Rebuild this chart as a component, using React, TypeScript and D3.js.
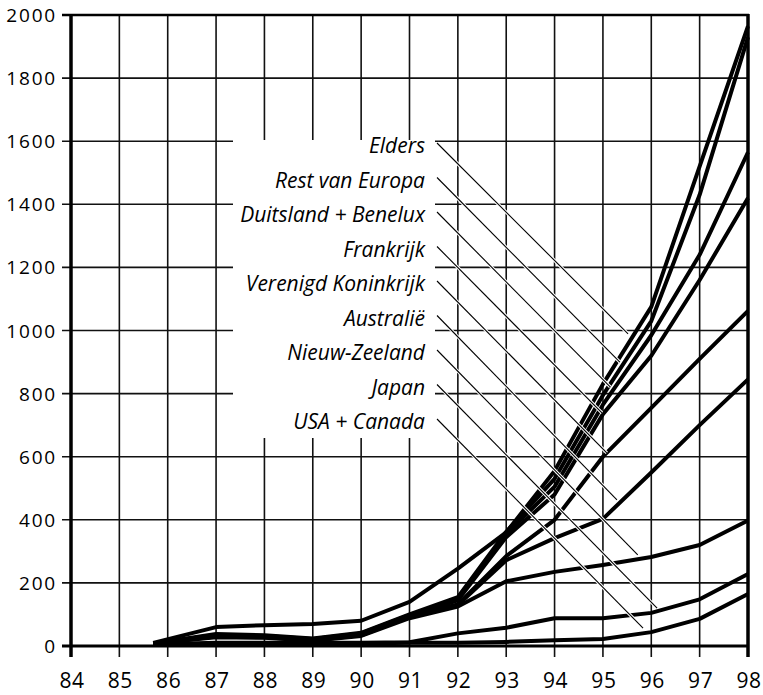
import React from "react";
import * as d3 from "d3";

const years = [85.7, 87, 88, 89, 90, 91, 92, 93, 94, 95, 96, 97, 98];

const elders = [10, 60, 66, 70, 80, 140, 245, 360, 555, 830, 1075, 1520, 1965];
const restVanEuropa = [8, 38, 34, 24, 42, 100, 155, 362, 530, 795, 1030, 1430, 1930];
const duitslandBenelux = [8, 35, 32, 22, 40, 98, 150, 355, 505, 765, 985, 1240, 1565];
const frankrijk = [8, 33, 30, 20, 38, 95, 145, 345, 480, 735, 920, 1160, 1420];
const verenigdKoninkrijk = [8, 32, 30, 20, 36, 94, 132, 285, 400, 600, 755, 910, 1062];
const australie = [8, 30, 28, 18, 34, 92, 130, 272, 342, 403, 550, 700, 845];
const nieuwZeeland = [8, 28, 26, 17, 32, 88, 125, 205, 235, 257, 282, 320, 398];
const japan = [5, 10, 10, 10, 10, 12, 40, 58, 88, 88, 105, 148, 228];
const usaCanada = [5, 8, 8, 8, 8, 10, 10, 13, 18, 22, 44, 86, 165];

const seriesNames = [
  "Elders",
  "Rest van Europa",
  "Duitsland + Benelux",
  "Frankrijk",
  "Verenigd Koninkrijk",
  "Australië",
  "Nieuw-Zeeland",
  "Japan",
  "USA + Canada",
];
const seriesValues = [
  elders,
  restVanEuropa,
  duitslandBenelux,
  frankrijk,
  verenigdKoninkrijk,
  australie,
  nieuwZeeland,
  japan,
  usaCanada,
];

// where each label's leader line touches its curve (data coordinates)
const anchorYears = [95.52, 95.35, 95.15, 94.98, 95.08, 95.29, 95.72, 96.12, 95.83];
const anchorValues = [989, 900, 821, 739, 612, 463, 289, 120, 57];

const xTicks = [84, 85, 86, 87, 88, 89, 90, 91, 92, 93, 94, 95, 96, 97, 98];
const yTicks = [0, 200, 400, 600, 800, 1000, 1200, 1400, 1600, 1800, 2000];

const W = 763;
const H = 695;

export default function App() {
  const x = d3.scaleLinear().domain([84, 98]).range([71, 748]);
  const y = d3.scaleLinear().domain([0, 2000]).range([646, 15]);
  const line = d3
    .line<number>()
    .x((_, i) => x(years[i]))
    .y((d) => y(d));

  const font = "'Open Sans', 'Noto Sans', sans-serif";
  const labelRight = 425;
  const labelBase0 = 153;
  const labelStep = 34.5;
  const leaderX = 437;

  return (
    <svg
      width={W}
      height={H}
      style={{ position: "absolute", left: 0, top: 0, background: "#fff" }}
    >
      <rect x={0} y={0} width={W} height={H} fill="#fff" />
      {/* vertical grid + ticks */}
      {xTicks.map((t) => (
        <line
          key={"vx" + t}
          x1={x(t)}
          x2={x(t)}
          y1={y(2000)}
          y2={y(0) + 11}
          stroke="#111"
          strokeWidth={1.6}
        />
      ))}
      {/* horizontal grid + ticks */}
      {yTicks.map((t) => (
        <line
          key={"hy" + t}
          x1={x(84) - 9}
          x2={x(98)}
          y1={y(t)}
          y2={y(t)}
          stroke="#111"
          strokeWidth={1.6}
        />
      ))}
      {/* frame */}
      <line x1={x(84)} x2={x(84)} y1={y(2000) - 1} y2={y(0) + 11} stroke="#000" strokeWidth={3.5} />
      <line x1={x(98)} x2={x(98)} y1={y(2000) - 1} y2={y(0) + 11} stroke="#000" strokeWidth={3.5} />
      <line x1={x(84) - 9} x2={x(98) + 1} y1={y(0)} y2={y(0)} stroke="#000" strokeWidth={3} />
      <line x1={x(84) - 9} x2={x(98) + 1} y1={y(2000)} y2={y(2000)} stroke="#000" strokeWidth={2.5} />

      {/* label panel */}
      <rect x={233} y={140} width={202} height={298} fill="#fff" />

      {/* y tick labels */}
      {yTicks.map((t) => (
        <text
          key={"ly" + t}
          x={57}
          y={y(t) + 7}
          textAnchor="end"
          fontFamily={font}
          fontSize={19}
          letterSpacing={1.8}
          fill="#000"
        >
          {t}
        </text>
      ))}
      {/* x tick labels */}
      {xTicks.map((t) => (
        <text
          key={"lx" + t}
          x={x(t) + 1}
          y={688}
          textAnchor="middle"
          fontFamily={font}
          fontSize={21}
          letterSpacing={0.6}
          fill="#000"
        >
          {t}
        </text>
      ))}

      {/* curves */}
      {seriesValues.map((vals, i) => (
        <path
          key={"s" + i}
          d={line(vals) || ""}
          fill="none"
          stroke="#000"
          strokeWidth={4}
          strokeLinejoin="round"
          strokeLinecap="butt"
        />
      ))}

      {/* labels and leaders */}
      {seriesNames.map((name, i) => {
        const by = labelBase0 + i * labelStep;
        const sy = by - 10;
        const ex = x(anchorYears[i]);
        const ey = y(anchorValues[i]);
        return (
          <g key={"lab" + i}>
            <line x1={leaderX} y1={sy} x2={ex} y2={ey} stroke="#fff" strokeWidth={3.2} />
            <line x1={leaderX} y1={sy} x2={ex} y2={ey} stroke="#000" strokeWidth={1.1} />
            <text
              x={labelRight}
              y={by}
              textAnchor="end"
              fontFamily={font}
              fontStyle="italic"
              fontSize={21}
              fill="#000"
            >
              {name}
            </text>
          </g>
        );
      })}
    </svg>
  );
}
